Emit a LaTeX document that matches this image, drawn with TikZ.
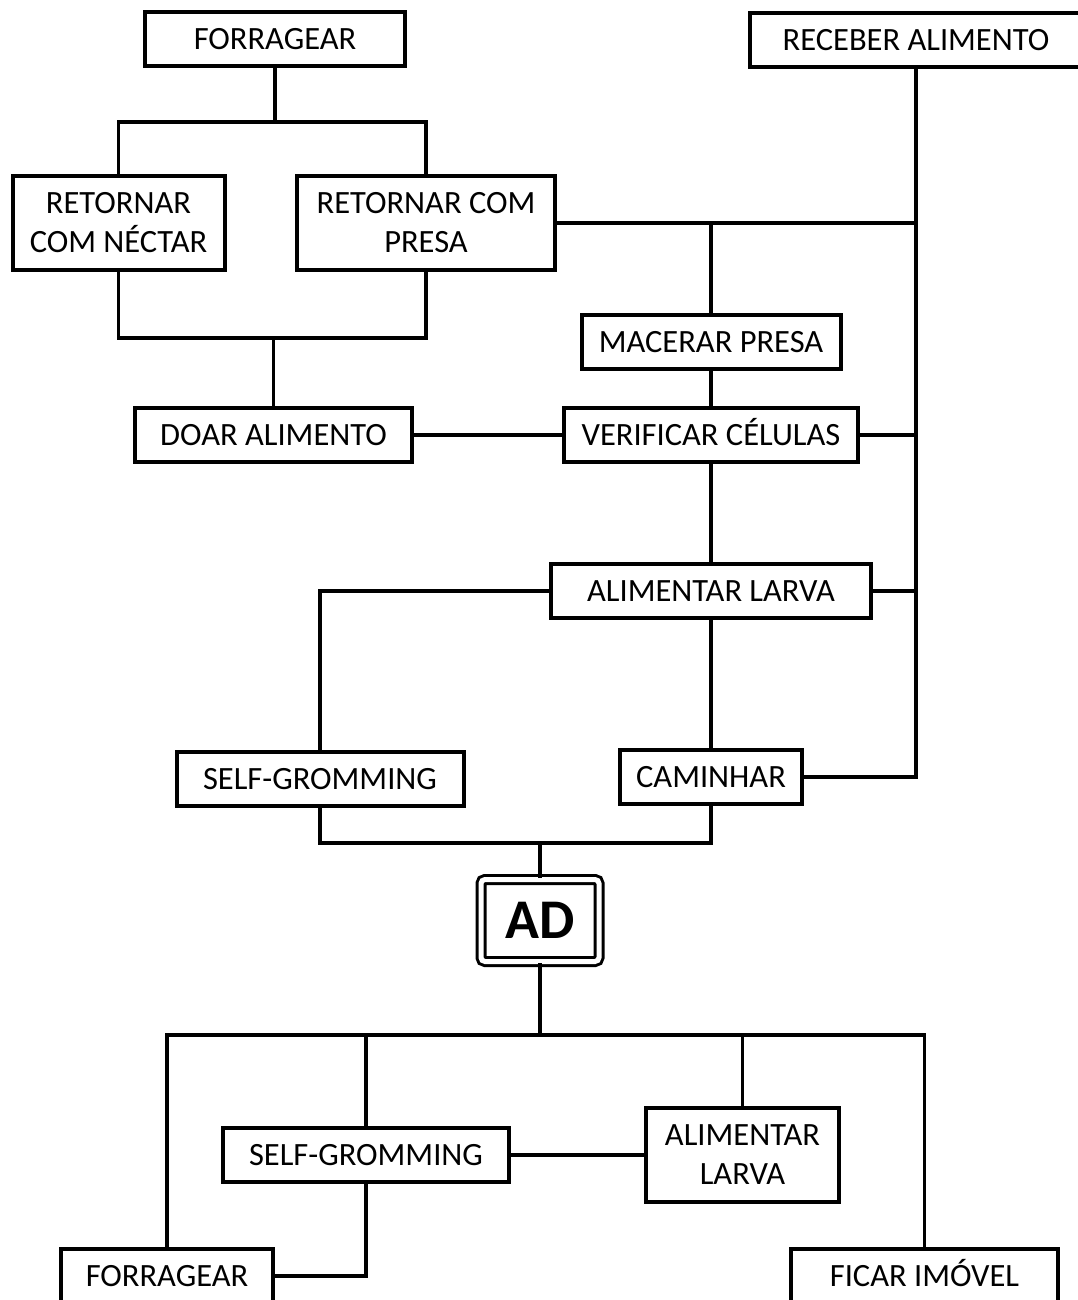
\documentclass[tikz,border=0pt]{standalone}
\usepackage{fontspec}
\setmainfont{Carlito}
\begin{document}
\begin{tikzpicture}[x=0.5pt, y=-0.5pt, line width=1.7pt,
      box/.style = {draw, rectangle, line width=2pt, inner sep=0pt, align=center, font=\fontsize{16.25}{19.5}\selectfont},
      main/.style = {box, minimum height=27pt, text height=10.5pt, text depth=0pt},
      tall/.style = {box, minimum height=47pt},
      big/.style = {draw, double, double distance=2.5pt, line width=1.5pt, rounded corners=2pt, inner sep=0pt, minimum width=59pt, minimum height=41pt, font=\bfseries\fontsize{28}{33}\selectfont}]
      \useasboundingbox (0,0) rectangle (1077,1300);

      % upper part
      \node[main, minimum width=130pt] (forr1) at (275,39) {FORRAGEAR};
      \node[main, minimum width=166pt] (receber) at (916,40) {RECEBER ALIMENTO};
      \node[tall, minimum width=106pt] (retnec) at (118.5,223) {RETORNAR\\COM NÉCTAR};
      \node[tall, minimum width=129pt] (retpresa) at (426,223) {RETORNAR COM\\PRESA};
      \node[main, minimum width=129.5pt] (macerar) at (711,342) {MACERAR PRESA};
      \node[main, minimum width=138.5pt] (doar) at (273.5,435) {DOAR ALIMENTO};
      \node[main, minimum width=147pt] (verificar) at (711,435) {VERIFICAR CÉLULAS};
      \node[main, minimum width=160pt] (alimentar) at (711,591) {ALIMENTAR LARVA};
      \node[main, minimum width=143.5pt] (self1) at (320,779) {SELF-GROMMING};
      \node[main, minimum width=91pt] (caminhar) at (711,777) {CAMINHAR};

      \node[big] (ad) at (540,920.5) {AD};

      % lower part
      \node[main, minimum width=143pt] (self2) at (366,1155) {SELF-GROMMING};
      \node[tall, minimum width=96.5pt] (alim2) at (742.5,1155) {ALIMENTAR\\LARVA};
      \node[main, minimum width=106pt] (forr2) at (167,1276) {FORRAGEAR};
      \node[main, minimum width=133.5pt] (ficar) at (924.5,1276) {FICAR IMÓVEL};

      \coordinate (j1) at (275,122);
      \coordinate (j2) at (273.5,338);
      \coordinate (j3) at (540,843);
      \coordinate (j4) at (540,1035);

      \draw[-] (forr1) to (j1);
      \draw[-] (retnec) |- (j1) -| (retpresa);
      \draw[-] (retnec) |- (j2) -| (retpresa);
      \draw[-] (j2) to (doar);

      \draw[-] (receber) |- (caminhar);
      \draw[-] (retpresa) to (retpresa -| receber);
      \draw[-] (macerar) to (macerar |- retpresa);
      \draw[-] (macerar) to (verificar);
      \draw[-] (doar) to (verificar);
      \draw[-] (verificar) to (verificar -| receber);
      \draw[-] (verificar) to (alimentar);
      \draw[-] (alimentar) to (alimentar -| receber);
      \draw[-] (alimentar) -| (self1);
      \draw[-] (alimentar) to (caminhar);

      \draw[-] (self1) |- (j3) -| (caminhar);
      \draw[-] (j3) to (ad);
      \draw[-] (ad) to (j4);

      \draw[-] (forr2) |- (j4) -| (ficar);
      \draw[-] (self2) to (self2 |- j4);
      \draw[-] (alim2) to (alim2 |- j4);
      \draw[-] (self2) to (alim2);
      \draw[-] (self2) |- (forr2);
\end{tikzpicture}
\end{document}
